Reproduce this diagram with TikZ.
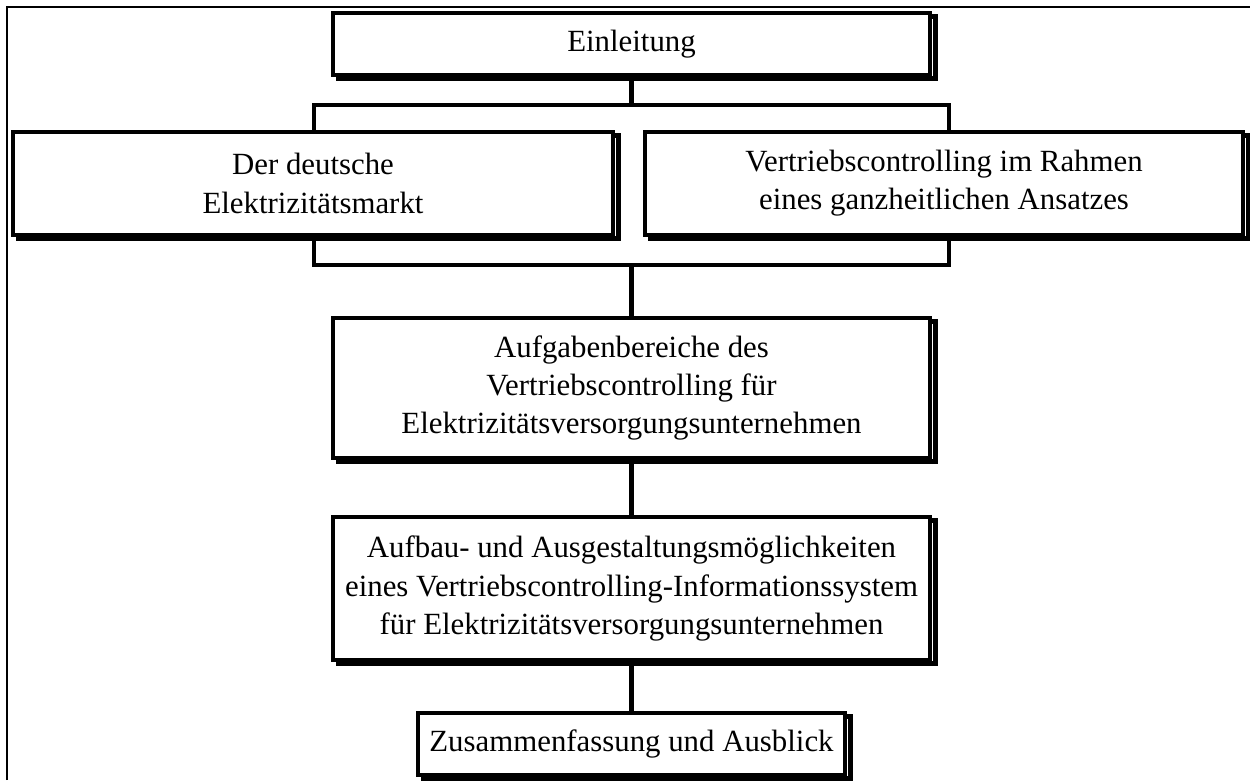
\documentclass[tikz,border=0pt]{standalone}
\usepackage{fontspec}
\setmainfont{Liberation Serif}
\usetikzlibrary{shadows}
\begin{document}
\begin{tikzpicture}[x=0.6pt,y=-0.6pt,
  box/.style={draw=black, fill=white, line width=2.6pt, align=center, inner sep=0pt,
    font=\fontsize{18.5pt}{22.9pt}\selectfont,
    general shadow={shadow xshift=3pt, shadow yshift=-2.2pt, draw=black, line width=3pt, fill=none}},
  bracket/.style={draw=black, line width=2.2pt, inner sep=0pt},
  conn/.style={line width=2.5pt},
  frame/.style={line width=1.6pt}]
\useasboundingbox (0,0) rectangle (1250,780);
\coordinate (fa) at (7,780);
\coordinate (fb) at (7,7);
\coordinate (fc) at (1250,7);
\draw[frame] (fa) -- (fb) -- (fc);
\node[bracket, minimum width=635*0.6pt, minimum height=160*0.6pt] (br) at (631.5,185) {};
\node[box, minimum width=597*0.6pt, minimum height=62*0.6pt] (ein) at (631.5,44) {Einleitung};
\node[box, minimum width=600*0.6pt, minimum height=103*0.6pt] (left) at (313,183.5) {Der deutsche\\Elektrizitätsmarkt};
\node[box, minimum width=598*0.6pt, minimum height=103*0.6pt] (right) at (944,183.5) {Vertriebscontrolling im Rahmen\\eines ganzheitlichen Ansatzes};
\node[box, minimum width=597*0.6pt, minimum height=140*0.6pt] (auf) at (631.5,388) {Aufgabenbereiche des\\Vertriebscontrolling für\\Elektrizitätsversorgungsunternehmen};
\node[box, minimum width=597*0.6pt, minimum height=143*0.6pt] (aufbau) at (631.5,588.5) {Aufbau- und Ausgestaltungsmöglichkeiten\\eines Vertriebscontrolling-Informationssystem\\für Elektrizitätsversorgungsunternehmen};
\node[box, minimum width=427*0.6pt, minimum height=62*0.6pt] (zus) at (631.5,744) {Zusammenfassung und Ausblick};
\draw[conn] (ein.south) -- (br.north);
\draw[conn] (br.south) -- (auf.north);
\draw[conn] (auf.south) -- (aufbau.north);
\draw[conn] (aufbau.south) -- (zus.north);
\end{tikzpicture}
\end{document}
